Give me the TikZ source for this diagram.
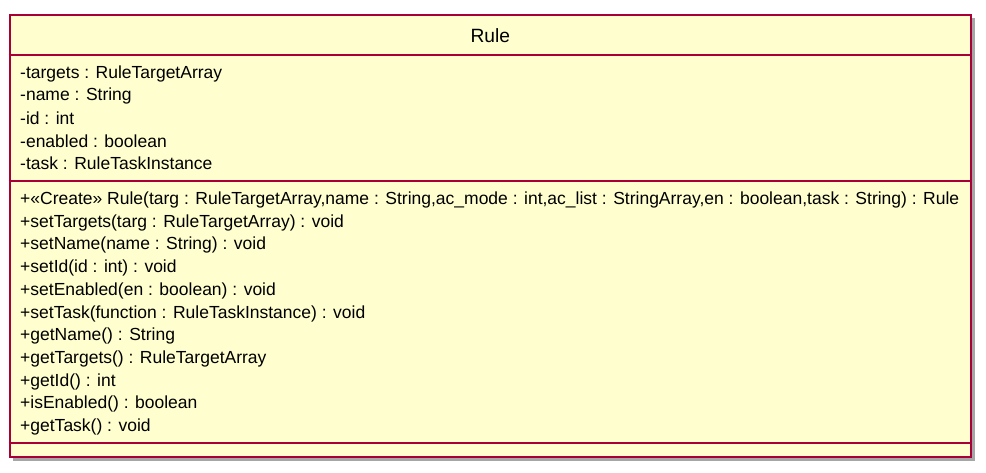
\documentclass[tikz,border=0pt]{standalone}
\usepackage{fontspec}
\setmainfont{Liberation Sans}
\usetikzlibrary{positioning}
\definecolor{umlfill}{HTML}{FEFECE}
\definecolor{umlborder}{HTML}{A80036}

\begin{document}
\begin{tikzpicture}[x=1pt,y=-1pt]
	% `member' is used for attribute and operation lines.
	% `classbox' is used for the outer frame.
	\tikzstyle{classbox} = [draw=umlborder,fill=umlfill,line width=2pt]
	\tikzstyle{shade} = [fill=black!35]
	\tikzstyle{divider} = [draw=umlborder,line width=2pt]
	\tikzstyle{member} = [anchor=west,inner sep=0pt,font=\fontsize{17.5}{20}\selectfont]
	\tikzstyle{title} = [inner sep=0pt,font=\fontsize{19.2}{22}\selectfont]
	\useasboundingbox (0,0) rectangle (986,472);
	%
	\fill[shade] (13,18) rectangle (974.5,460.5);
	\node[classbox,minimum width=961.5pt,minimum height=442.5pt,anchor=north west] (rule) at (8.5,13.5) {};
	\node[title] (name) at (rule.north |- 0,36) {Rule};
	% Draw dividers.
	\coordinate (d1) at (0,55);
	\coordinate (d2) at (0,181);
	\coordinate (d3) at (0,443);
	\draw[divider] (rule.west |- d1) -- (rule.east |- d1);
	\draw[divider] (rule.west |- d2) -- (rule.east |- d2);
	\draw[divider] (rule.west |- d3) -- (rule.east |- d3);
	% Attributes.
	\foreach \txt [count=\i] in {
		-targets : RuleTargetArray,
		-name : String,
		-id : int,
		-enabled : boolean,
		-task : RuleTaskInstance}
		\node[member] (attr\i) at (20,{74+22.3*(\i-1)}) {\txt};
	% Operations.
	\foreach \txt [count=\i] in {
		{+«Create» Rule(targ : RuleTargetArray,name : String,ac\_mode : int,ac\_list : StringArray,en : boolean,task : String) : Rule},
		+setTargets(targ : RuleTargetArray) : void,
		+setName(name : String) : void,
		+setId(id : int) : void,
		+setEnabled(en : boolean) : void,
		+setTask(function : RuleTaskInstance) : void,
		+getName() : String,
		+getTargets() : RuleTargetArray,
		+getId() : int,
		+isEnabled() : boolean,
		+getTask() : void}
		\node[member] (op\i) at (20,{200+22.7*(\i-1)}) {\txt};
%
\end{tikzpicture}
\end{document}
